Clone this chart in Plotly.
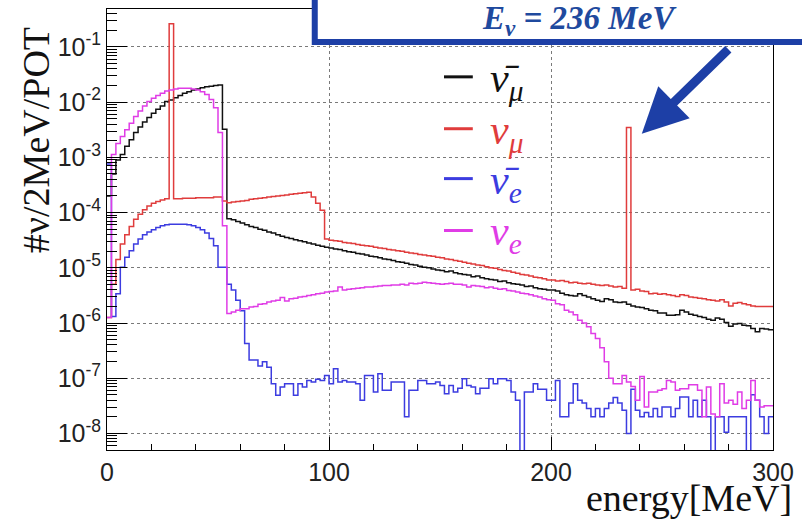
import plotly.graph_objects as go

# ---------------- data (log10 of #nu / 2MeV / POT, one value per 2 MeV bin, 0-300 MeV) ----------------
bin_width_mev = 2
energy_edges = list(range(0, 302, bin_width_mev))

# anti nu_mu (black)
nubar_mu_log = [
    -3.70, -3.30, -3.05, -2.95, -2.80, -2.68, -2.55, -2.45, -2.36, -2.28, -2.20, -2.13, -2.07, -1.99,
    -1.96, -1.92, -1.88, -1.84, -1.81, -1.78, -1.76, -1.74, -1.72, -1.71, -1.70, -1.69, -2.49,
    -4.11, -4.13, -4.16, -4.19, -4.22, -4.25, -4.27, -4.30, -4.32, -4.35, -4.37, -4.40, -4.43, -4.45,
    -4.47, -4.49, -4.51, -4.53, -4.55, -4.57, -4.59, -4.61, -4.63,
    -4.64, -4.66, -4.67, -4.69, -4.71, -4.72, -4.74, -4.75, -4.77, -4.79, -4.80, -4.82, -4.84, -4.85,
    -4.87, -4.89, -4.90, -4.92, -4.94, -4.95, -4.97, -4.99, -5.00, -5.02, -5.04,
    -5.05, -5.07, -5.06, -5.09, -5.11, -5.12, -5.13, -5.16, -5.15, -5.18, -5.20, -5.21, -5.22, -5.25,
    -5.24, -5.27, -5.29, -5.30, -5.31, -5.34, -5.33, -5.36, -5.38, -5.39, -5.40,
    -5.40, -5.42, -5.46, -5.49, -5.50, -5.51, -5.47, -5.50, -5.53, -5.56, -5.59, -5.61, -5.56, -5.58,
    -5.62, -5.63, -5.62, -5.66, -5.69, -5.71, -5.72, -5.74, -5.77, -5.78, -5.82,
    -5.82, -5.86, -5.86, -5.85, -5.77, -5.80, -5.84, -5.86, -5.88, -5.90, -5.93, -5.95, -5.91, -5.93,
    -5.99, -6.06, -6.02, -6.01, -6.04, -6.05, -6.10, -6.16, -6.10, -6.11, -6.12,
]

# nu_mu (red)
nu_mu_log = [
    -5.90, -5.30, -4.85, -4.57, -4.40, -4.25, -4.12, -4.03, -3.95, -3.88, -3.83, -3.80, -3.77, -3.75,
    -0.58,
    -3.75, -3.75, -3.74, -3.74, -3.74, -3.73, -3.73, -3.73, -3.73, -3.72, -3.72, -3.79, -3.82,
    -3.81, -3.80, -3.79, -3.78, -3.76, -3.75, -3.74, -3.73, -3.72, -3.71, -3.70, -3.69, -3.68, -3.67,
    -3.66, -3.65, -3.64, -3.63, -3.72, -3.83, -3.96, -4.48,
    -4.50, -4.51, -4.52, -4.54, -4.55, -4.56, -4.58, -4.59, -4.60, -4.61, -4.63, -4.64, -4.65, -4.67,
    -4.68, -4.69, -4.70, -4.72, -4.73, -4.74, -4.76, -4.77, -4.78, -4.79, -4.81,
    -4.82, -4.84, -4.85, -4.87, -4.88, -4.90, -4.92, -4.93, -4.95, -4.96, -4.98, -5.00, -5.01, -5.03,
    -5.05, -5.06, -5.08, -5.10, -5.12, -5.13, -5.15, -5.17, -5.18, -5.20, -5.22,
    -5.22, -5.24, -5.23, -5.25, -5.27, -5.26, -5.28, -5.29, -5.28, -5.30, -5.31, -5.32, -5.31, -5.33,
    -5.35, -5.34, -5.37, -2.46, -5.40, -5.39, -5.42, -5.43, -5.47, -5.46, -5.48,
    -5.47, -5.49, -5.50, -5.52, -5.49, -5.50, -5.53, -5.54, -5.55, -5.56, -5.58, -5.59, -5.60, -5.58,
    -5.62, -5.69, -5.64, -5.63, -5.65, -5.67, -5.69, -5.70, -5.70, -5.70, -5.70,
]

# anti nu_e (blue); None = empty bin
nubar_e_log = [
    -3.12, -5.88, -5.47, -4.99, -4.81, -4.69, -4.57, -4.48, -4.40, -4.35, -4.31, -4.27, -4.24, -4.22,
    -4.21, -4.21, -4.21, -4.21, -4.22, -4.24, -4.27, -4.31, -4.37, -4.47, -4.60, -4.99, -4.99,
    -5.30, -5.40, -5.59, -5.78, -6.37, -6.67, -6.67, -6.78, -6.70, -6.80, -7.10, -7.31, -7.16, -7.10,
    -7.10, -7.31, -7.10, -7.16, -7.04, -7.07, -7.02, -7.04, -6.95,
    -7.10, -6.83, -7.07, -7.04, -7.07, -7.07, -7.10, -7.40, -6.95, -6.95, -7.25, -6.92, -7.22, -7.22,
    -7.07, -7.07, -7.07, -7.70, -7.22, -7.22, -7.04, -7.04, -7.10, -7.10, -7.07,
    -7.13, -7.28, -7.13, -7.25, -7.18, -7.01, -7.13, -7.16, -7.28, -7.18, -7.18, -7.01, -7.10, -7.01,
    -7.01, -7.04, -7.25, -7.40, None, -7.25, -7.25, -7.10, -7.20, -7.20, -7.40,
    -7.40, -7.04, -7.70, -7.70, -7.45, -7.10, -7.40, -7.45, -7.55, -7.70, -7.55, -7.70, -7.55, -7.45,
    -7.35, -7.45, -7.58, -8.00, -7.20, -7.58, -7.70, -7.62, -7.70, -7.55, -7.70,
    -7.52, -7.52, -7.70, -7.55, -7.34, -7.34, -7.70, -7.40, -7.70, -7.40, -7.70, None, -7.70, -7.70,
    -7.98, -7.70, -7.70, -7.70, -7.70, None, -7.30, -7.40, -7.70, -8.00, -7.70,
]

# nu_e (magenta)
nu_e_log = [
    -5.90, -2.95, -2.75, -2.62, -2.50, -2.38, -2.26, -2.16, -2.07, -1.99, -1.93, -1.88, -1.84, -1.80,
    -1.78, -1.76, -1.75, -1.75, -1.75, -1.76, -1.78, -1.81, -1.86, -1.95, -2.10, -2.55, -4.24, -5.83,
    -5.80, -5.77, -5.74, -5.74, -5.71, -5.70, -5.66, -5.65, -5.62, -5.60, -5.59, -5.54, -5.60, -5.56,
    -5.55, -5.53, -5.52, -5.50, -5.49, -5.47, -5.46, -5.44,
    -5.43, -5.42, -5.35, -5.40, -5.39, -5.38, -5.37, -5.36, -5.35, -5.35, -5.34, -5.33, -5.32, -5.32,
    -5.31, -5.31, -5.30, -5.31, -5.28, -5.29, -5.28, -5.26, -5.27, -5.28, -5.29,
    -5.30, -5.29, -5.28, -5.30, -5.30, -5.31, -5.35, -5.32, -5.33, -5.34, -5.36, -5.35, -5.37, -5.39,
    -5.38, -5.41, -5.42, -5.44, -5.46, -5.47, -5.49, -5.51, -5.53, -5.56, -5.58,
    -5.59, -5.65, -5.67, -5.77, -5.80, -5.85, -5.95, -6.00, -6.07, -6.19, -6.28, -6.45, -6.70, -7.00,
    -7.10, -7.10, -6.95, -7.07, -7.15, -7.40, -6.97, -7.52, -7.25, -7.25, -7.22,
    -7.19, -7.04, -7.07, -7.22, -7.19, -7.19, -7.12, -7.12, -7.22, -7.70, -7.16, -7.65, -7.70, -7.10,
    -7.45, -7.40, -7.47, -7.25, -7.55, -7.40, -7.04, -7.40, -7.52, -7.50, -7.50,
]

series_names = ["<i>ν̄<sub>μ</sub></i>", "<i>ν<sub>μ</sub></i>", "<i>ν̄<sub>e</sub></i>", "<i>ν<sub>e</sub></i>"]
series_colors = ["#111111", "#e03c3c", "#3c3ce0", "#e03ce6"]
series_logs = [nubar_mu_log, nu_mu_log, nubar_e_log, nu_e_log]

y_tick_exps = [-8, -7, -6, -5, -4, -3, -2, -1]
x_tick_vals = [0, 100, 200, 300]

annotation_text = "<b><i>E<sub>ν</sub> = 236 MeV</i></b>"


def to_flux(logs):
    # empty bins drawn below the axis floor
    return [10 ** v if v is not None else 1e-12 for v in logs]


fig = go.Figure()
for name, color, logs in zip(series_names, series_colors, series_logs):
    vals = to_flux(logs)
    fig.add_trace(go.Scatter(
        x=energy_edges, y=vals + [vals[-1]], mode="lines",
        line=dict(color=color, width=1.5, shape="hv"),
        name=name, showlegend=False,
    ))

# geometry helpers (pixels -> paper)
L, R, T, B = 107, 25, 8, 71
W, H = 802, 521
PW, PH = W - L - R, H - T - B


def px(x):
    return (x - L) / PW


def py(y):
    return (H - B - y) / PH


minor_y = [k * 10.0 ** d for d in range(-9, 0) for k in range(2, 10)]

fig.update_layout(
    width=W, height=H,
    margin=dict(l=L, r=R, t=T, b=B),
    paper_bgcolor="white", plot_bgcolor="white",
    showlegend=False,
    xaxis=dict(range=[0, 300], tickmode="array", tickvals=x_tick_vals,
               ticks="inside", ticklen=13, tickcolor="black", tickwidth=1,
               showline=True, linecolor="black", linewidth=1, mirror=True,
               showgrid=True, gridcolor="#7a7a7a", griddash="dot", gridwidth=1,
               zeroline=False,
               tickfont=dict(family="Liberation Sans", size=25, color="#222"),
               minor=dict(dtick=20, ticks="inside", ticklen=6, tickcolor="black", showgrid=False)),
    yaxis=dict(type="log", range=[-8.30, -0.313], tickmode="array",
               tickvals=[10.0 ** e for e in y_tick_exps],
               ticktext=[f"10<sup>{e}</sup>" for e in y_tick_exps],
               ticks="inside", ticklen=20, tickcolor="black", tickwidth=1,
               showline=True, linecolor="black", linewidth=1, mirror=True,
               showgrid=True, gridcolor="#7a7a7a", griddash="dot", gridwidth=1,
               zeroline=False,
               tickfont=dict(family="Liberation Sans", size=25, color="#222"),
               minor=dict(tickmode="array", tickvals=minor_y, ticks="inside", ticklen=10,
                          tickcolor="black", showgrid=False)),
)

# legend drawn as line keys + labels (rows as in the reference)
legend_rows_px = [76, 128, 178, 230]
for name, color, ry in zip(series_names, series_colors, legend_rows_px):
    fig.add_shape(type="line", xref="paper", yref="paper",
                  x0=px(446), x1=px(475), y0=py(ry), y1=py(ry),
                  line=dict(color=color, width=3), layer="above")
    fig.add_annotation(text=name, xref="paper", yref="paper",
                       x=px(490), y=py(ry + 4), xanchor="left", yanchor="middle", showarrow=False,
                       font=dict(family="Liberation Serif", size=42, color=color))

fig.add_annotation(text="#ν/2MeV/POT", textangle=-90, xref="paper", yref="paper",
                   x=px(35), y=py(139), xanchor="center", yanchor="middle", showarrow=False,
                   font=dict(family="Liberation Serif", size=38, color="#111"))
fig.add_annotation(text="energy[MeV]", xref="paper", yref="paper",
                   x=px(798), y=py(498), xanchor="right", yanchor="middle", showarrow=False,
                   font=dict(family="Liberation Serif", size=38, color="#111"))

fig.add_shape(type="rect", xref="paper", yref="paper",
              x0=px(316), x1=px(830), y0=py(41), y1=py(-30),
              line=dict(color="#1d3fa6", width=6), fillcolor="white", layer="above")
fig.add_annotation(text=annotation_text, xref="paper", yref="paper",
                   x=px(582), y=py(20), xanchor="center", yanchor="middle", showarrow=False,
                   font=dict(family="Liberation Serif", size=33, color="#1f4a9e"))
fig.add_annotation(text="", xref="paper", yref="paper", x=px(645), y=py(133),
                   ax=88, ay=-86, showarrow=True, arrowhead=2, arrowsize=1,
                   arrowwidth=9, arrowcolor="#1d3fa6")

fig.write_html("out.html")
